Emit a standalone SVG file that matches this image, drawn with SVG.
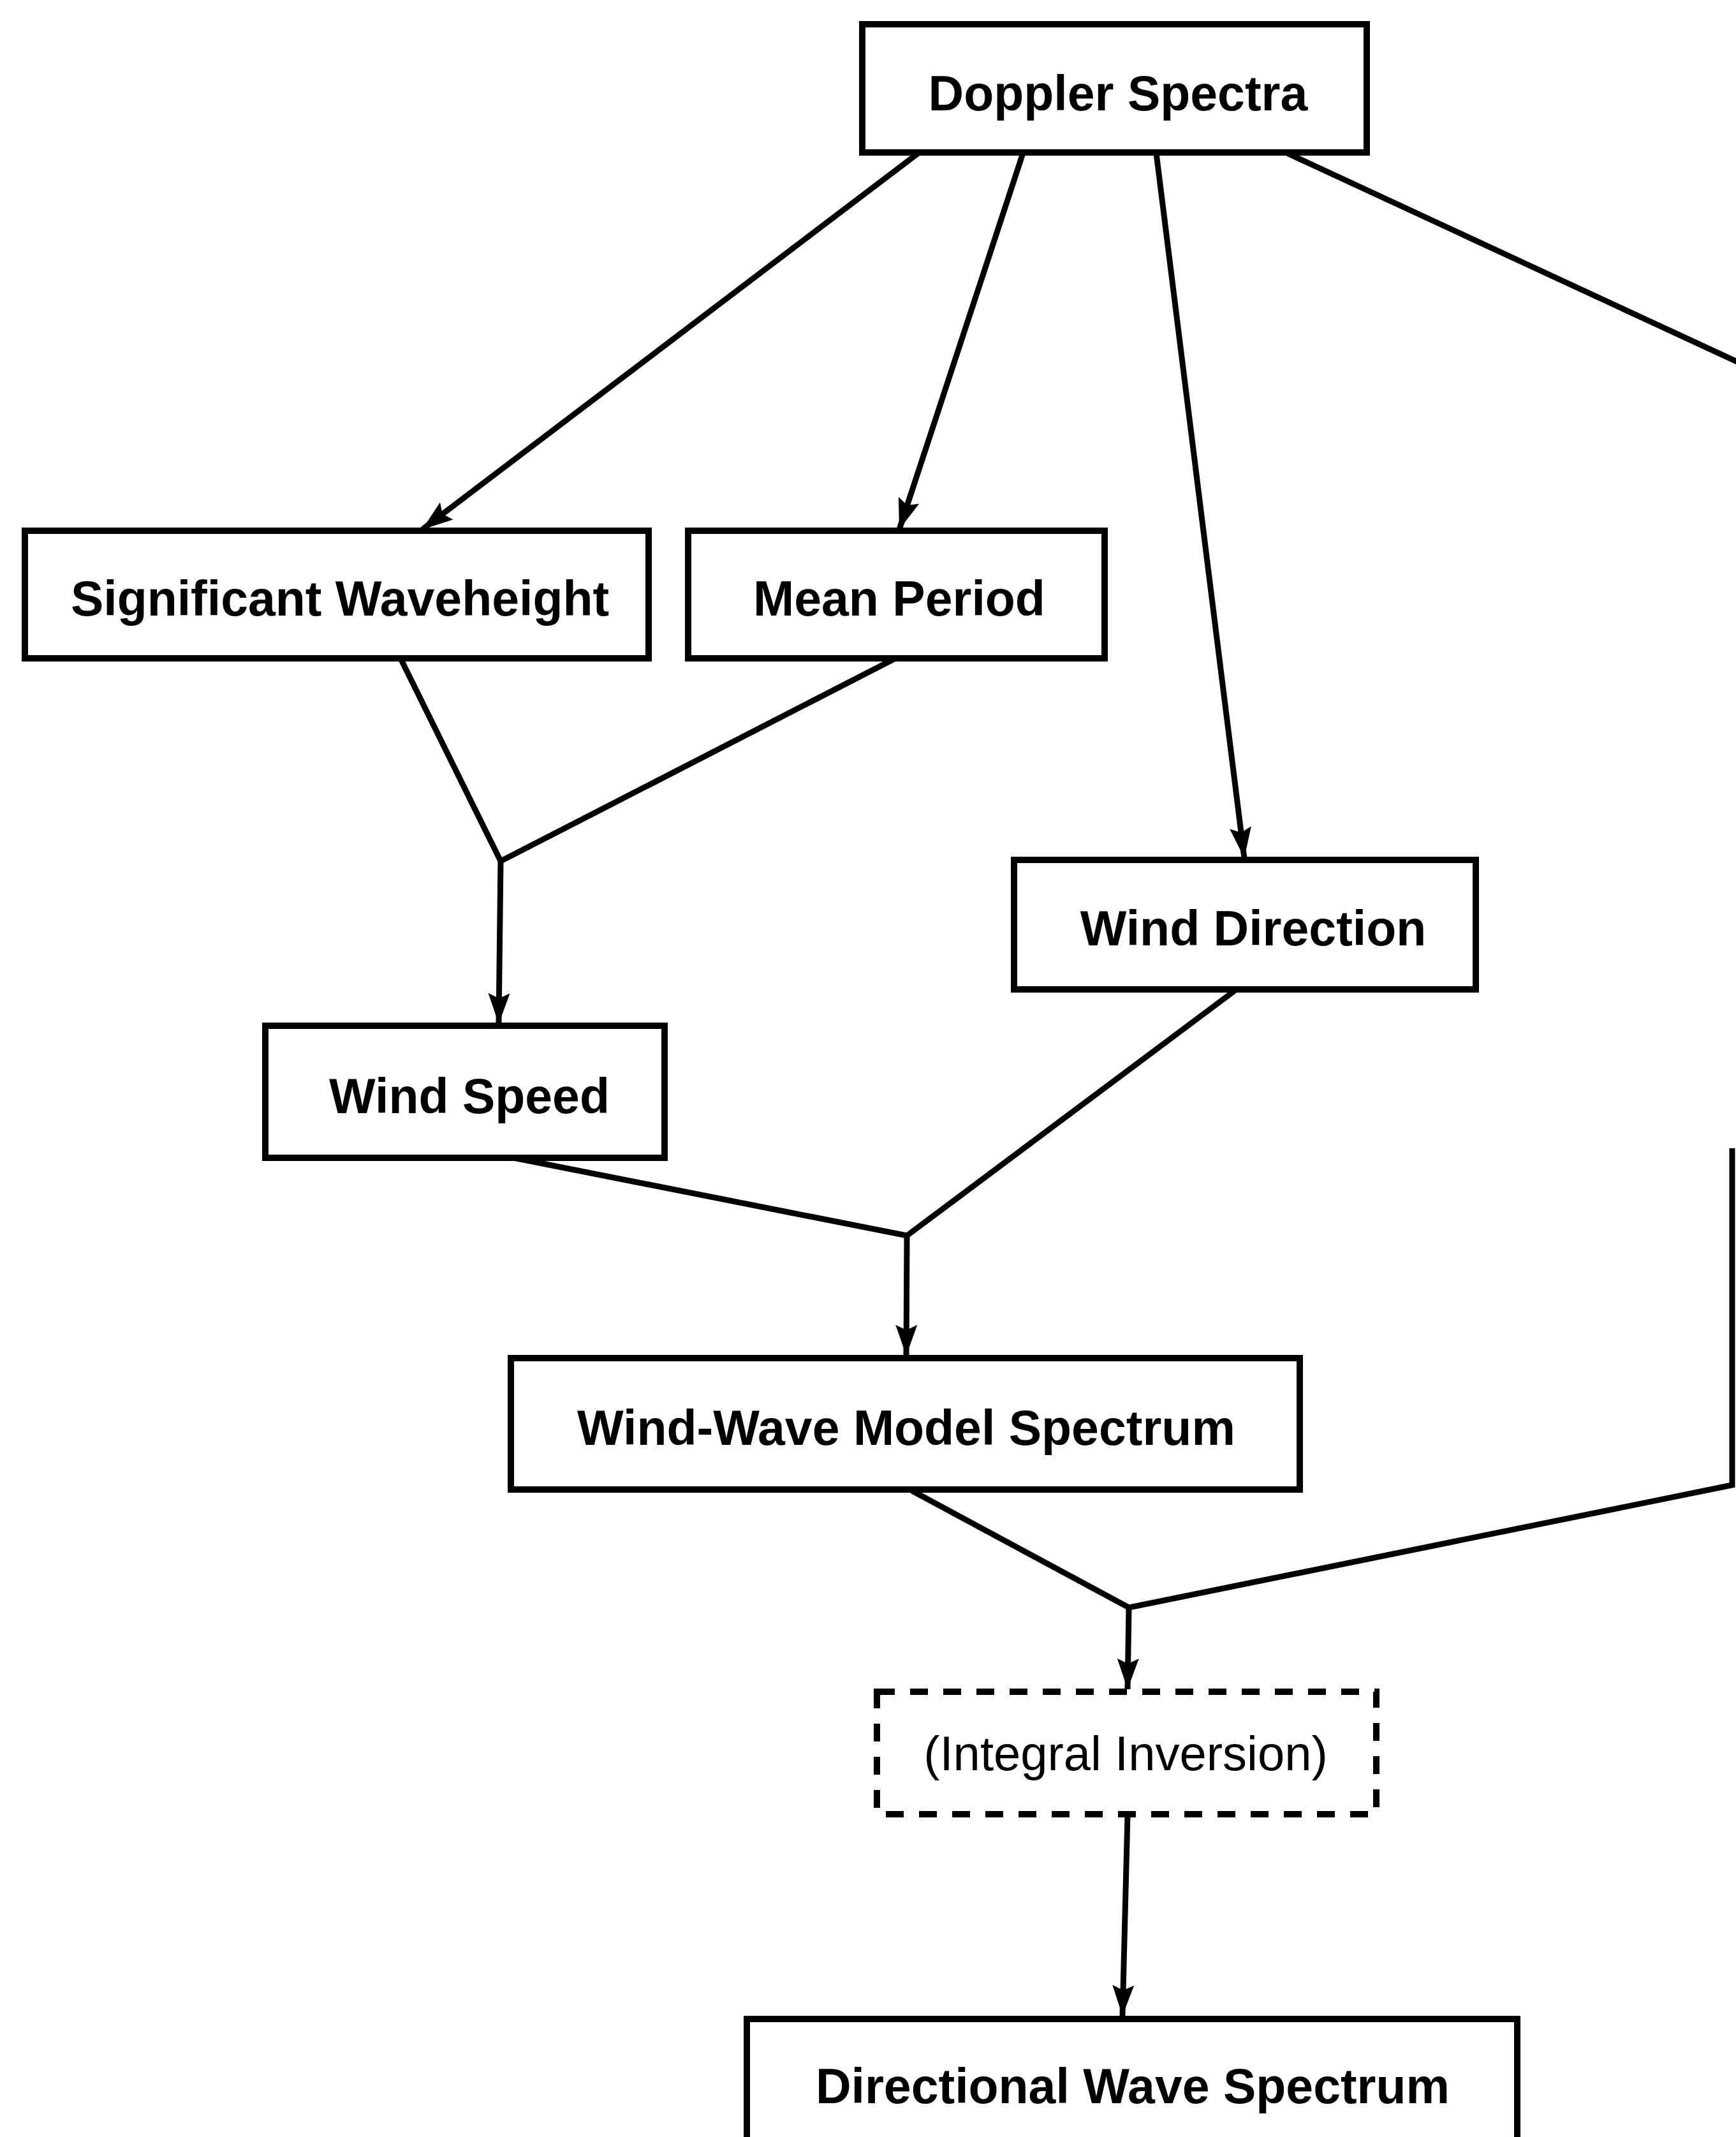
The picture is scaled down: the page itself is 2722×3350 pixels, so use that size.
<svg xmlns="http://www.w3.org/2000/svg" width="2722" height="3350" viewBox="0 0 2722 3350">
<style>
.box{fill:#fff;stroke:#000;stroke-width:10}
.dash{fill:#fff;stroke:#000;stroke-width:10;stroke-dasharray:28 24}
.lbl{font-family:"Liberation Sans",Arial,sans-serif;font-weight:bold;font-size:77px;fill:#000;text-anchor:middle}
.lblr{font-family:"Liberation Sans",Arial,sans-serif;font-size:76px;fill:#000;text-anchor:middle}
.ln{fill:none;stroke:#000;stroke-width:9;stroke-linejoin:miter}
.arr{fill:none;stroke:#000;stroke-width:9;marker-end:url(#ah)}
</style>
<defs>
<marker id="ah" markerUnits="userSpaceOnUse" markerWidth="60" markerHeight="44" viewBox="-50 -22 52 44" refX="0" refY="0" orient="auto">
<path d="M0,0 L-48,-17 L-40,0 L-48,17 Z" fill="#000"/>
</marker>
</defs>
<rect width="2722" height="3350" fill="#fff"/>
<g id="connectors">
<line class="arr" x1="1440" y1="240" x2="662" y2="830"/>
<line class="arr" x1="1604" y1="240" x2="1410" y2="830"/>
<line class="arr" x1="1813" y1="240" x2="1951" y2="1345"/>
<line class="ln" x1="2018" y1="240" x2="2730" y2="570"/>
<polyline class="ln" points="628,1032 785,1350 1404,1032"/>
<line class="arr" x1="785" y1="1350" x2="782" y2="1605"/>
<polyline class="ln" points="790,1812 1422,1937 1936,1553"/>
<line class="arr" x1="1422" y1="1937" x2="1421" y2="2125"/>
<polyline class="ln" points="1430,2337 1770,2520 2716,2328 2716,1800"/>
<line class="arr" x1="1770" y1="2520" x2="1768" y2="2648"/>
<line class="arr" x1="1768" y1="2846" x2="1760" y2="3160"/>
</g>
<g id="doppler-spectra">
<rect class="box" x="1352" y="38" width="791" height="201"/>
<text class="lbl" x="1753" y="173">Doppler Spectra</text>
</g>
<g id="significant-waveheight">
<rect class="box" x="39" y="832" width="978" height="200"/>
<text class="lbl" x="533" y="965">Significant Waveheight</text>
</g>
<g id="mean-period">
<rect class="box" x="1079" y="832" width="653" height="200"/>
<text class="lbl" x="1410" y="965">Mean Period</text>
</g>
<g id="wind-direction">
<rect class="box" x="1590" y="1348" width="724" height="203"/>
<text class="lbl" x="1965" y="1482">Wind Direction</text>
</g>
<g id="wind-speed">
<rect class="box" x="416" y="1608" width="626" height="207"/>
<text class="lbl" x="736" y="1745">Wind Speed</text>
</g>
<g id="wind-wave-model-spectrum">
<rect class="box" x="801" y="2129" width="1237" height="206"/>
<text class="lbl" x="1421" y="2265">Wind-Wave Model Spectrum</text>
</g>
<g id="integral-inversion">
<rect class="dash" x="1375" y="2652" width="783" height="192"/>
<text class="lblr" x="1765" y="2775">(Integral Inversion)</text>
</g>
<g id="directional-wave-spectrum">
<rect class="box" x="1171" y="3165" width="1208" height="240"/>
<text class="lbl" x="1776" y="3297">Directional Wave Spectrum</text>
</g>
</svg>
